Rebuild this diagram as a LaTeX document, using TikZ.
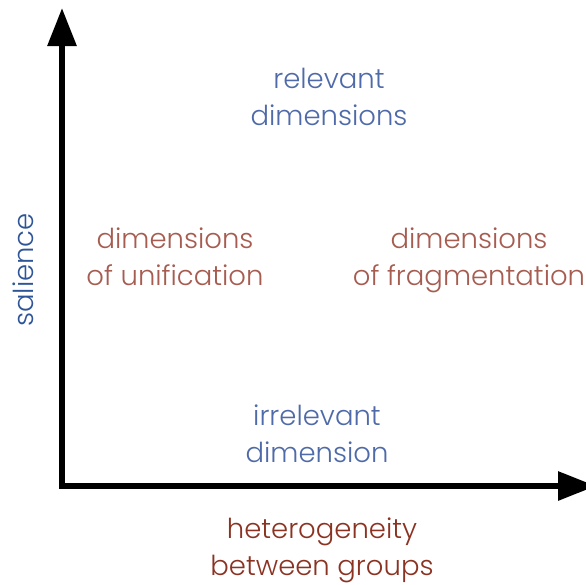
\documentclass[tikz,border=0pt]{standalone}
\usepackage{fontspec}
\setmainfont{Poppins}[UprightFont={* Light}]
\usetikzlibrary{arrows.meta}
\definecolor{lblue}{HTML}{4F6AA8}
\definecolor{dblue}{HTML}{2E5597}
\definecolor{lred}{HTML}{A65C50}
\definecolor{dred}{HTML}{8B3323}
\begin{document}
\begin{tikzpicture}[x=1pt,y=-1pt,
  axis/.style={line width=6pt,-{Triangle[length=38pt,width=28pt]}},
  lbl/.style={align=center,font=\fontsize{27.5}{37}\selectfont,inner sep=0pt,anchor=base}]
\useasboundingbox (0,0) rectangle (586,584);
\coordinate (o) at (62,486);
\coordinate (ytip) at (62,8);
\coordinate (xtip) at (596,486);
\draw[axis] ([yshift=3pt]o) -- (ytip);
\draw[axis] ([xshift=-3pt]o) -- (xtip);
\node[lbl,text=lblue] (rel) at (329,125) {relevant\\dimensions};
\node[lbl,text=lred] (uni) at (175,285) {dimensions\\of unification};
\node[lbl,text=lred] (frag) at (469,285) {dimensions\\of fragmentation};
\node[lbl,text=lblue] (irr) at (317,462) {irrelevant\\dimension};
\node[lbl,text=dblue,rotate=90] (sal) at (33,270) {salience};
\node[lbl,text=dred] (het) at (322,575) {heterogeneity\\between groups};
\end{tikzpicture}
\end{document}
